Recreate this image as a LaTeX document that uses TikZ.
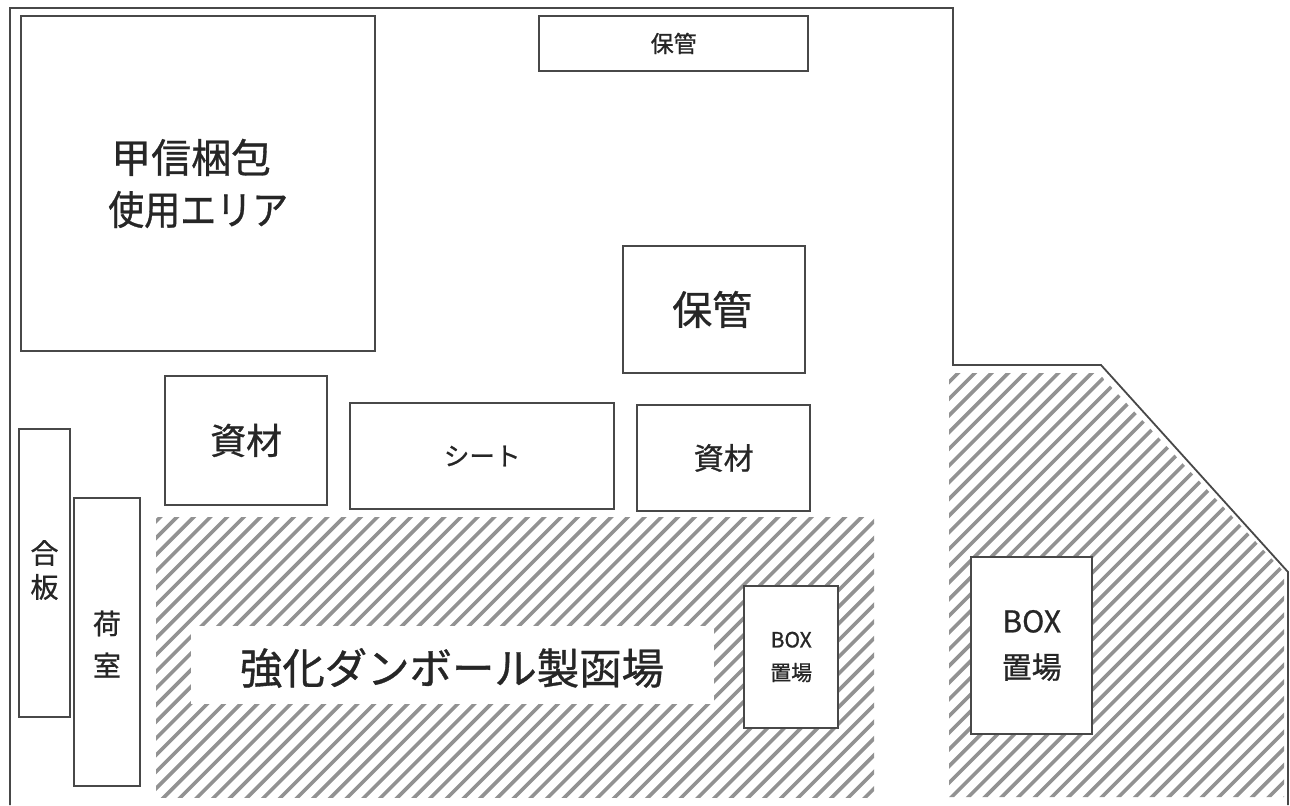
\documentclass[tikz,border=0pt]{standalone}
\usepackage{fontspec}
\setmainfont{Noto Sans CJK JP}
\newfontfamily\heavyfont[FakeBold=0.8]{Noto Sans CJK JP}
\definecolor{ln}{HTML}{484848}
\definecolor{txt}{HTML}{262626}
\definecolor{hatchc}{HTML}{929292}
\tikzset{
  roombox/.style={draw=ln,line width=1.2pt,fill=white,inner sep=0pt,text=txt,align=center},
  wall/.style={draw=ln,line width=0.9pt},
  hatchline/.style={draw=hatchc,line width=1.8pt},
  sized/.style n args={2}{font=\heavyfont\fontsize{#1}{#2}\selectfont}
}
\newcommand{\rbox}[7]{% name, x1,y1,x2,y2, style, text
  \node[roombox,anchor=north west,minimum width=#4*0.5pt-#2*0.5pt,minimum height=#5*0.5pt-#3*0.5pt,#6] (#1) at (#2,#3) {#7};}
\begin{document}
\begin{tikzpicture}[x=0.5pt,y=-0.5pt]
\useasboundingbox (0,0) rectangle (1290,805);
\fill[white] (0,0) rectangle (1290,805);
% hatching
\begin{scope}
\clip (156,517) rectangle (874,797);
\foreach \c in {677.3,694,...,1680} {\draw[hatchline] (\c,0) -- (0,\c);}
\end{scope}
\begin{scope}
\clip (949,373) -- (1098,373) -- (1103,378) -- (1284,572) -- (1284,797) -- (949,797) -- cycle;
\foreach \c in {1281,1297.7,...,2100} {\draw[hatchline] (\c,0) -- (0,\c);}
\end{scope}
\fill[white] (191,626) rectangle (714,704);
% walls
\coordinate (w1) at (10,805);
\coordinate (w2) at (10,8);
\coordinate (w3) at (953,8);
\coordinate (w4) at (953,365);
\coordinate (w5) at (1101,365);
\coordinate (w6) at (1288,572);
\coordinate (w7) at (1288,805);
\draw[wall] (w1) -- (w2) -- (w3) -- (w4) -- (w5) -- (w6) -- (w7);
% boxes
\rbox{a}{20}{14.5}{374}{350}{sized={20pt}{26pt}}{\hspace*{-7pt}甲信梱包\\\scalebox{0.9}[1]{使用エリア}}
\rbox{b}{538}{14.5}{807}{70}{sized={11.5pt}{13pt}}{保管}
\rbox{c}{622}{244.5}{804}{372}{sized={20pt}{22pt}}{\hspace*{-2pt}保管}
\rbox{d}{164}{374.5}{326}{504}{sized={18pt}{20pt}}{資材}
\rbox{e}{349}{401.5}{613}{508}{sized={12.8pt}{14pt}}{シート}
\rbox{f}{636}{403.5}{809}{510}{sized={15pt}{16pt}}{資材}
\rbox{g}{18}{427.5}{69}{716}{}{}
\rbox{h}{73}{496.5}{139}{785}{}{}
\rbox{i}{743}{584.5}{837}{727}{sized={10.5pt}{16.5pt}}{BOX\\置場}
\rbox{j}{970}{555.5}{1091}{733}{sized={15pt}{23pt}}{BOX\\置場}
\node[text=txt,align=center,inner sep=0pt,sized={14pt}{17pt}] (gt) at (44.5,570) {合\\板};
\node[text=txt,align=center,inner sep=0pt,sized={14pt}{21pt}] (ht) at (107,644) {荷\\室};
\node[text=txt,inner sep=0pt,sized={21.2pt}{24pt}] (title) at (452,668) {強化ダンボール製函場};
\end{tikzpicture}
\end{document}
